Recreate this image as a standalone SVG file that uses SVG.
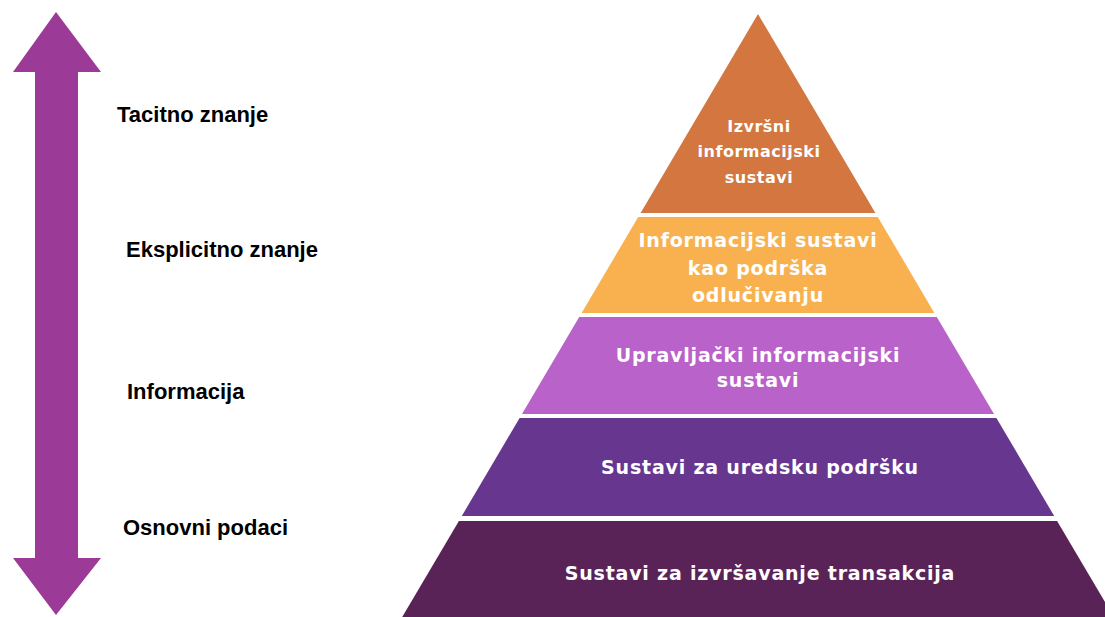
<svg xmlns="http://www.w3.org/2000/svg" width="1105" height="617" viewBox="0 0 1105 617">
  <style>
    .lbl { font-family: "Liberation Sans", Arial, sans-serif; font-weight: bold; font-size: 22px; fill: #000000; }
    .pt { font-family: "DejaVu Sans", Verdana, sans-serif; font-weight: bold; font-size: 19px; fill: #ffffff; text-anchor: middle; letter-spacing: 0.8px; }
    .pts { font-family: "DejaVu Sans", Verdana, sans-serif; font-weight: bold; font-size: 16px; fill: #ffffff; text-anchor: middle; letter-spacing: 0.5px; }
  </style>
  <rect x="0" y="0" width="1105" height="617" fill="#ffffff"/>

  <g id="arrow">
    <polygon points="56,12 13,72 35,72 35,558 13,558 56,615 101,558 78,558 78,72 101,72" fill="#9B3A97"/>
  </g>

  <g id="labels">
    <text class="lbl" x="117" y="122">Tacitno znanje</text>
    <text class="lbl" x="126" y="257">Eksplicitno znanje</text>
    <text class="lbl" x="127" y="399">Informacija</text>
    <text class="lbl" x="123" y="535">Osnovni podaci</text>
  </g>

  <g id="layer1">
    <polygon points="758,14 875.4,213 640.6,213" fill="#D37640"/>
    <text class="pts" x="759" y="132">Izvršni</text>
    <text class="pts" x="759" y="157">informacijski</text>
    <text class="pts" x="759" y="183">sustavi</text>
  </g>

  <g id="layer2">
    <polygon points="638.2,217 877.8,217 934.4,313 581.6,313" fill="#F9B150"/>
    <text class="pt" x="758" y="247">Informacijski sustavi</text>
    <text class="pt" x="758" y="275">kao podrška</text>
    <text class="pt" x="758" y="302">odlučivanju</text>
  </g>

  <g id="layer3">
    <polygon points="579.2,317 936.8,317 994,414 522,414" fill="#B962C9"/>
    <text class="pt" x="758" y="362">Upravljački informacijski</text>
    <text class="pt" x="758" y="387">sustavi</text>
  </g>

  <g id="layer4">
    <polygon points="519.6,418 996.4,418 1054.2,516 461.8,516" fill="#67368F"/>
    <text class="pt" x="760" y="474">Sustavi za uredsku podršku</text>
  </g>

  <g id="layer5">
    <polygon points="458.9,521 1057.1,521 1113.8,617 402.2,617" fill="#5A2358"/>
    <text class="pt" x="760" y="580">Sustavi za izvršavanje transakcija</text>
  </g>
</svg>
